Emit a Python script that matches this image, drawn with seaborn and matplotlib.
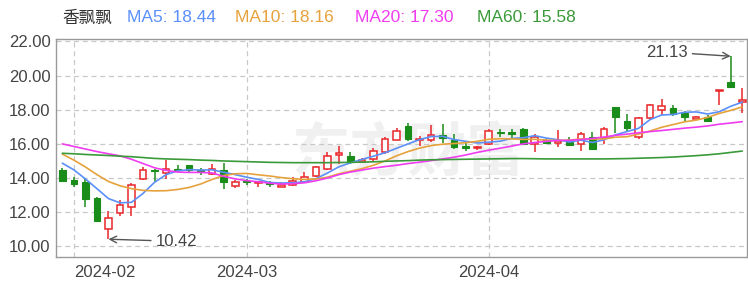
import matplotlib
matplotlib.use("Agg")
import matplotlib.pyplot as plt
import seaborn as sns
import pandas as pd
import numpy as np

stock_name = "香飘飘"

open_ = [14.50, 13.90, 13.75, 12.85, 11.00, 11.95, 12.30, 13.95, 14.50, 14.30,
         14.55, 14.75, 14.45, 14.25, 14.50, 13.55, 13.85, 13.70, 13.70, 13.50,
         13.60, 13.75, 14.10, 14.55, 15.35, 15.30, 14.95, 15.10, 15.55, 16.25,
         17.05, 16.20, 16.20, 16.50, 16.25, 15.85, 15.75, 16.00, 16.72, 16.68,
         16.85, 16.00, 16.25, 16.05, 16.20, 16.00, 16.40, 16.35, 18.15, 17.35,
         16.40, 17.50, 18.00, 18.10, 17.80, 17.48, 17.60, 19.10, 19.65, 18.45]
high = [14.60, 14.05, 14.00, 12.90, 12.05, 12.70, 13.70, 14.65, 14.55, 15.05,
        14.75, 14.75, 14.60, 14.80, 14.90, 13.90, 13.95, 13.85, 13.80, 13.75,
        14.05, 14.35, 14.70, 15.50, 15.90, 15.50, 15.20, 15.75, 16.40, 16.95,
        17.20, 16.45, 17.10, 17.15, 16.60, 16.05, 15.90, 16.85, 16.85, 16.85,
        16.90, 16.55, 16.30, 16.80, 16.40, 16.70, 16.70, 17.00, 18.15, 17.75,
        17.55, 18.35, 18.60, 18.25, 17.95, 17.65, 17.70, 19.15, 21.13, 19.25]
low = [13.80, 13.50, 12.30, 11.45, 10.42, 11.80, 11.80, 13.90, 13.75, 13.95,
       14.35, 14.30, 14.20, 14.20, 13.35, 13.40, 13.60, 13.45, 13.50, 13.45,
       13.55, 13.70, 14.05, 14.45, 14.85, 14.85, 14.90, 14.95, 15.40, 16.20,
       16.15, 15.85, 16.10, 16.05, 15.70, 15.60, 15.65, 15.95, 16.40, 16.35,
       15.95, 15.50, 16.00, 15.80, 15.85, 15.60, 15.65, 16.00, 16.65, 16.75,
       16.30, 17.40, 17.70, 17.65, 17.30, 17.45, 17.30, 18.30, 19.30, 17.80]
close = [13.85, 13.65, 12.80, 11.50, 11.65, 12.40, 13.60, 14.50, 14.40, 14.55,
         14.50, 14.50, 14.40, 14.55, 13.75, 13.78, 13.75, 13.75, 13.65, 13.62,
         13.85, 14.05, 14.65, 15.30, 15.45, 15.00, 15.05, 15.60, 16.30, 16.75,
         16.30, 16.30, 16.50, 16.35, 15.80, 15.78, 15.82, 16.75, 16.65, 16.60,
         16.00, 16.40, 16.05, 16.15, 15.95, 16.55, 15.72, 16.85, 17.60, 16.90,
         17.50, 18.25, 18.20, 17.75, 17.55, 17.58, 17.35, 19.15, 19.35, 18.55]

ma5 = [14.87, 14.48, 13.95, 13.38, 12.80, 12.55, 12.58, 13.10, 13.75, 14.20,
       14.42, 14.49, 14.47, 14.48, 14.34, 14.20, 14.05, 13.92, 13.74, 13.71,
       13.72, 13.78, 13.96, 14.29, 14.66, 14.89, 15.09, 15.28, 15.48, 15.74,
       16.00, 16.25, 16.43, 16.44, 16.25, 16.15, 16.05, 16.10, 16.16, 16.32,
       16.36, 16.48, 16.34, 16.24, 16.11, 16.22, 16.08, 16.24, 16.53, 16.72,
       16.91, 17.42, 17.69, 17.72, 17.85, 17.87, 17.75, 17.88, 18.20, 18.44]
ma10 = [15.40, 15.05, 14.65, 14.20, 13.80, 13.55, 13.38, 13.28, 13.25, 13.26,
        13.33, 13.45, 13.65, 13.92, 14.15, 14.25, 14.27, 14.19, 14.12, 14.03,
        13.96, 13.92, 13.94, 14.05, 14.25, 14.40, 14.55, 14.75, 15.00, 15.30,
        15.55, 15.75, 15.90, 15.98, 16.02, 16.07, 16.15, 16.27, 16.30, 16.29,
        16.26, 16.27, 16.22, 16.20, 16.22, 16.29, 16.28, 16.29, 16.39, 16.42,
        16.57, 16.75, 16.97, 17.13, 17.29, 17.39, 17.55, 17.78, 17.96, 18.16]
ma20 = [16.00, 15.85, 15.70, 15.55, 15.42, 15.30, 15.10, 14.85, 14.60, 14.45,
        14.35, 14.33, 14.33, 14.30, 14.10, 13.95, 13.85, 13.78, 13.70, 13.65,
        13.67, 13.72, 13.84, 14.00, 14.20, 14.35, 14.47, 14.58, 14.67, 14.75,
        14.85, 14.93, 15.02, 15.12, 15.22, 15.35, 15.50, 15.63, 15.75, 15.87,
        16.00, 16.08, 16.15, 16.20, 16.21, 16.25, 16.32, 16.40, 16.50, 16.57,
        16.65, 16.72, 16.78, 16.85, 16.92, 16.98, 17.05, 17.15, 17.22, 17.30]
ma60 = [15.45, 15.42, 15.38, 15.35, 15.32, 15.28, 15.25, 15.20, 15.15, 15.12,
        15.10, 15.08, 15.05, 15.03, 15.00, 14.98, 14.96, 14.94, 14.92, 14.91,
        14.90, 14.90, 14.90, 14.90, 14.91, 14.92, 14.93, 14.95, 14.98, 15.00,
        15.02, 15.05, 15.07, 15.08, 15.09, 15.10, 15.11, 15.12, 15.13, 15.14,
        15.14, 15.13, 15.12, 15.12, 15.12, 15.12, 15.12, 15.12, 15.13, 15.14,
        15.16, 15.18, 15.20, 15.23, 15.27, 15.31, 15.36, 15.42, 15.50, 15.58]

month_tick_idx = [1, 16, 37]
month_labels = ["2024-02", "2024-03", "2024-04"]
y_ticks = [10, 12, 14, 16, 18, 20, 22]
ma_names = ["MA5", "MA10", "MA20", "MA60"]
ma_last = [18.44, 18.16, 17.30, 15.58]
low_label, high_label = "10.42", "21.13"

RED = "#e8262a"
GREEN = "#1a8c1a"
ma_colors = ["#5b8ff9", "#e6a23c", "#f03cf0", "#3a9a3a"]

sns.set_theme(style="white")
plt.rcParams["font.family"] = ["Liberation Sans", "Noto Sans CJK SC", "DejaVu Sans"]

fig = plt.figure(figsize=(7.48, 2.82), dpi=100)
ax = fig.add_axes([56/748, 1 - 257/282, (746.5 - 56)/748, (257 - 39.3)/282])

n = len(close)
x = np.arange(n)

# watermark
ax.text(30.0, 15.4, "东方财富", fontsize=42, fontweight="bold", style="italic",
        color="#f0f0f0", ha="center", va="center", zorder=0,
        family=["Noto Sans CJK SC"])

# grid
for yv in y_ticks:
    ax.axhline(yv, color="#c8c8c8", lw=0.9, ls=(0, (4, 3)), zorder=0.5)
for xi in month_tick_idx:
    ax.axvline(xi, color="#c8c8c8", lw=0.9, ls=(0, (4, 3)), zorder=0.5)

# candles
w = 0.58
for i in range(n):
    o, h, l, c = open_[i], high[i], low[i], close[i]
    lo, hi = min(o, c), max(o, c)
    body = max(hi - lo, 0.04)
    if c >= o:
        ax.vlines(x[i], l, lo, color=RED, lw=1.1, zorder=2)
        ax.vlines(x[i], lo + body, h, color=RED, lw=1.1, zorder=2)
        ax.bar(x[i], body, bottom=lo, width=w, facecolor="white",
               edgecolor=RED, linewidth=1.1, zorder=3)
    else:
        ax.vlines(x[i], l, h, color=GREEN, lw=1.1, zorder=2)
        ax.bar(x[i], body, bottom=lo, width=w, facecolor=GREEN,
               edgecolor=GREEN, linewidth=0.8, zorder=3)

# moving averages
df = pd.DataFrame({"x": x, "MA5": ma5, "MA10": ma10, "MA20": ma20, "MA60": ma60})
long = df.melt(id_vars="x", var_name="ma", value_name="v")
sns.lineplot(data=long, x="x", y="v", hue="ma", hue_order=ma_names,
             palette=ma_colors, lw=1.2, ax=ax, legend=False, zorder=4)

# annotations
ax.annotate(low_label, xy=(4, 10.42), xytext=(34, -1.5), textcoords="offset points",
            ha="left", va="center", fontsize=12, color="#444444",
            arrowprops=dict(arrowstyle="->", color="#555555", lw=1.0,
                            shrinkA=1, shrinkB=0))
ax.annotate(high_label, xy=(58, 21.13), xytext=(-31, 3), textcoords="offset points",
            ha="right", va="center", fontsize=12, color="#444444",
            arrowprops=dict(arrowstyle="->", color="#555555", lw=1.0,
                            shrinkA=1, shrinkB=0))

ax.set_xlim(-0.55, n - 1 + 0.37)
ax.set_ylim(9.38, 22.12)
ax.set_yticks(y_ticks)
ax.set_yticklabels([f"{v:.2f}" for v in y_ticks])
ax.set_xticks(month_tick_idx)
ax.set_xticklabels(month_labels)
ax.set_xlabel("")
ax.set_ylabel("")
ax.tick_params(axis="both", length=0, labelsize=12, labelcolor="#444444")
ax.tick_params(axis="y", pad=4)
ax.tick_params(axis="x", pad=6)
for lab in ax.get_xticklabels()[:1]:
    lab.set_horizontalalignment("left")
for s in ax.spines.values():
    s.set_color("#9a9a9a")
    s.set_linewidth(1.0)
    s.set_visible(True)

# header legend
fy = 1 - 18/282
fig.text(62/748, fy, stock_name, fontsize=12, color="#333333", va="center",
         ha="left", family=["Noto Sans CJK SC"])
xs = [127, 235, 355, 477]
for xp, nm, val, col in zip(xs, ma_names, ma_last, ma_colors):
    fig.text(xp/748, fy, f"{nm}: {val:.2f}", fontsize=12.5, color=col,
             va="center", ha="left")

fig.savefig("out.png", dpi=100)
